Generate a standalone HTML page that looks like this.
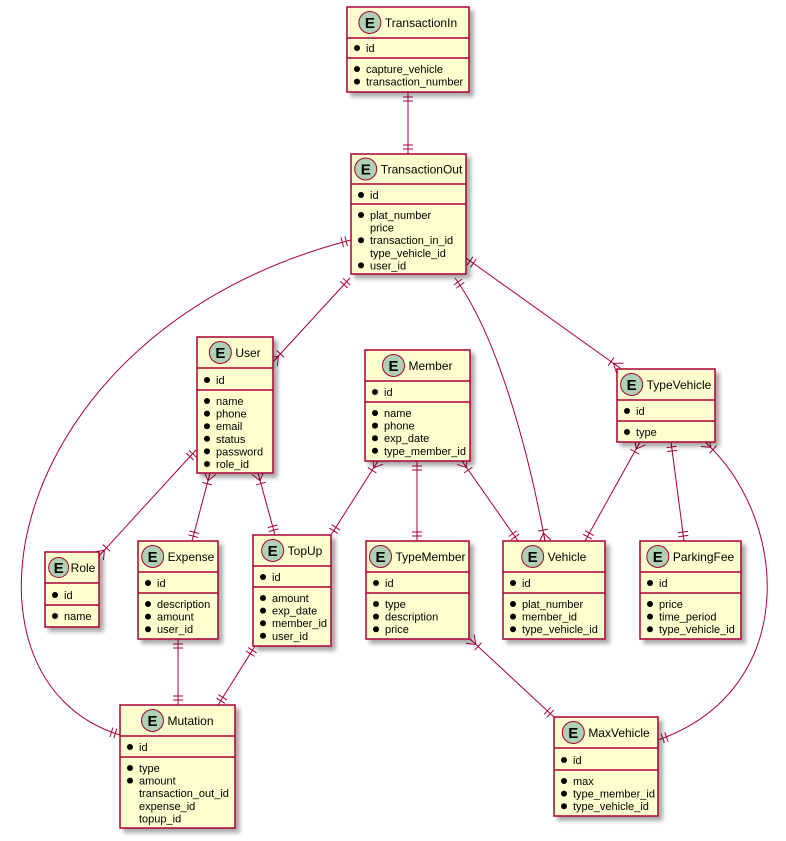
<!DOCTYPE html>
<html><head><meta charset="utf-8"><style>
html,body{margin:0;padding:0;background:#fff;}
svg{display:block;font-family:"Liberation Sans",sans-serif;}
</style></head><body>
<svg id="s" width="786" height="841" xmlns="http://www.w3.org/2000/svg">
<defs><filter id="sh" x="-10%" y="-10%" width="130%" height="130%"><feGaussianBlur in="SourceAlpha" stdDeviation="2"/><feOffset dx="4" dy="4"/><feComponentTransfer><feFuncA type="linear" slope="0.35"/></feComponentTransfer><feMerge><feMergeNode/><feMergeNode in="SourceGraphic"/></feMerge></filter></defs>
<g id="edges" stroke="#A80036" fill="none" stroke-width="1"></g>
<g id="boxes"></g>
</svg>
<script>
var NS="http://www.w3.org/2000/svg";
function el(p,t,a,txt){var e=document.createElementNS(NS,t);for(var k in a)e.setAttribute(k,a[k]);if(txt!=null)e.textContent=txt;p.appendChild(e);return e;}
var B=document.getElementById('boxes'),E=document.getElementById('edges');
function box(name,x1,y1,x2,y2,d1,idY,d2,rows){
 var g=el(B,'g',{});
 el(g,'rect',{x:x1,y:y1,width:x2-x1,height:y2-y1,fill:'#FEFECE',stroke:'#A80036','stroke-width':1.5,filter:'url(#sh)'});
 var cy=(y1+d1)/2;
 var t=el(g,'text',{x:0,y:cy+4.5,'font-size':12,fill:'#000'},name);
 var w=t.getComputedTextLength();
 var gap=4,r=11;
 if(22+gap+w>(x2-x1)-6){gap=2;r=10;}
 var total=2*r+gap+w;var sx=x1+((x2-x1)-total)/2;
 if(sx<x1+2)sx=x1+2;
 t.setAttribute('x',sx+2*r+gap);
 el(g,'circle',{cx:sx+r,cy:cy,r:r,fill:'#ADD1B2',stroke:'#A80036','stroke-width':1});
 el(g,'text',{x:sx+r,y:cy+5.5,'text-anchor':'middle','font-size':15,'font-weight':'bold',fill:'#000'},'E');
 el(g,'line',{x1:x1,y1:d1,x2:x2,y2:d1,stroke:'#A80036','stroke-width':1.5});
 el(g,'line',{x1:x1,y1:d2,x2:x2,y2:d2,stroke:'#A80036','stroke-width':1.5});
 el(g,'circle',{cx:x1+10,cy:idY,r:3,fill:'#000'});
 el(g,'text',{x:x1+19,y:idY+4,'font-size':11,fill:'#000'},'id');
 var y=d2+11;
 rows.forEach(function(rr){var b=rr[0]=='*';var s=b?rr.slice(1):rr;
  if(b)el(g,'circle',{cx:x1+10,cy:y,r:3,fill:'#000'});
  el(g,'text',{x:x1+19,y:y+4,'font-size':11,fill:'#000'},s);y+=12.6;});
}
box('TransactionIn',347,7,469,92,38,48,58,['*capture_vehicle','*transaction_number']);
box('TransactionOut',351,154,466,274,184,195,204,['*plat_number','price','*transaction_in_id','type_vehicle_id','*user_id']);
box('User',197,337,273,473,368,380,390,['*name','*phone','*email','*status','*password','*role_id']);
box('Member',365,350,470,461,381,392,402,['*name','*phone','*exp_date','*type_member_id']);
box('TypeVehicle',617,369,715,442,400,411,421,['*type']);
box('Role',45,552,99,627,583,595,605,['*name']);
box('Expense',138,541,218,639,572,583,593,['*description','*amount','*user_id']);
box('TopUp',253,535,331,646,566,577,587,['*amount','*exp_date','*member_id','*user_id']);
box('TypeMember',366,541,469,639,572,583,593,['*type','*description','*price']);
box('Vehicle',503,541,605,639,572,583,593,['*plat_number','*member_id','*type_vehicle_id']);
box('ParkingFee',640,541,741,639,572,583,593,['*price','*time_period','*type_vehicle_id']);
box('Mutation',120,705,235,828,736,747,757,['*type','*amount','transaction_out_id','expense_id','topup_id']);
box('MaxVehicle',554,717,658,816,748,760,770,['*max','*type_member_id','*type_vehicle_id']);
function ln(a,b,c,d){el(E,'line',{x1:a,y1:b,x2:c,y2:d});}
function mark(P,Q,type){
 var dx=P[0]-Q[0],dy=P[1]-Q[1],L=Math.hypot(dx,dy);var ux=dx/L,uy=dy/L,nx=-uy,ny=ux;
 function bar(d){var cx=P[0]-ux*d,cy=P[1]-uy*d;ln(cx+nx*5,cy+ny*5,cx-nx*5,cy-ny*5);}
 if(type=='one'){bar(5);bar(9);}
 else{var bx=P[0]-ux*8,by=P[1]-uy*8;ln(bx,by,P[0]+nx*6,P[1]+ny*6);ln(bx,by,P[0]-nx*6,P[1]-ny*6);ln(bx,by,P[0],P[1]);bar(11);}
}
function edge(p,q,c1,c2,ta,tb){
 if(c1){el(E,'path',{d:'M'+p+' C'+c1+' '+c2+' '+q});mark(p,c1,ta);mark(q,c2,tb);}
 else{ln(p[0],p[1],q[0],q[1]);mark(p,q,ta);mark(q,p,tb);}
}
edge([408,92],[408,154],null,null,'one','one');
edge([351,240],[120,735],[0,330],[-60,680],'one','one');
edge([350,278],[273,362],null,null,'one','many');
edge([455,278],[545,541],[500,340],[530,460],'one','many');
edge([466,258],[620,368],null,null,'one','many');
edge([196,450],[99,556],null,null,'one','many');
edge([210,473],[192,541],null,null,'many','one');
edge([258,473],[275,535],null,null,'many','one');
edge([378,461],[331,535],null,null,'many','one');
edge([417,461],[417,541],null,null,'one','one');
edge([462,461],[518,541],null,null,'many','one');
edge([640,442],[585,541],null,null,'many','one');
edge([671,442],[684,541],null,null,'one','one');
edge([705,442],[658,740],[790,520],[800,690],'many','one');
edge([178,639],[178,705],null,null,'one','one');
edge([255,646],[218,705],null,null,'one','one');
edge([470,639],[554,717],null,null,'many','one');
</script>
</body></html>
